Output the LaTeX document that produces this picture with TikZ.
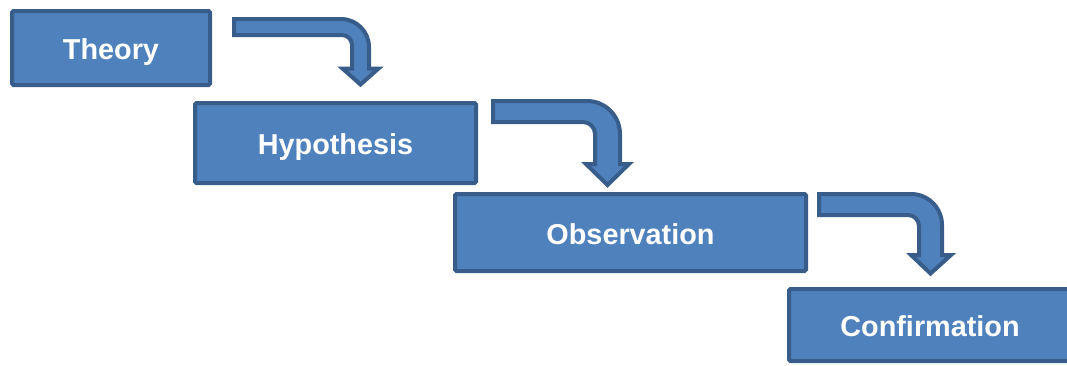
\documentclass[tikz,border=0pt]{standalone}
\usepackage{fontspec}
\setmainfont{Liberation Sans}
\definecolor{boxfill}{HTML}{4F81BD}
\definecolor{boxline}{HTML}{385D8A}
\tikzset{
  stage/.style={draw=boxline, fill=boxfill, line width=4pt, rounded corners=1.5pt,
    text=white, font=\fontsize{28.8}{34}\selectfont\bfseries, inner sep=0pt,
    text height=23.6pt, text depth=0pt},
  bent/.style={draw=boxline, fill=boxfill, line width=4pt, line join=miter}
}
\begin{document}
\begin{tikzpicture}[x=1pt, y=-1pt]
  \useasboundingbox (0,0) rectangle (1067,365);
  \clip (0,0) rectangle (1067,365);

  % stages of the method
  \node[stage, minimum width=198pt, minimum height=74pt] (theory) at (111,48) {Theory};
  \node[stage, minimum width=281pt, minimum height=80pt] (hypo) at (335.5,143) {Hypothesis};
  \node[stage, minimum width=351pt, minimum height=77pt] (obs) at (630.5,232.5) {Observation};
  \node[stage, minimum width=282pt, minimum height=72pt] (conf) at (930,325) {Confirmation};

  % bent block arrows leading down to the next stage
  \draw[bent] (234,19) -- (341,19) arc[start angle=270, end angle=360, radius=28]
    -- (369,68.5) -- (378.5,68.5) -- (360.5,84.5) -- (342.5,68.5) -- (352,68.5)
    -- (352,45) arc[start angle=0, end angle=-90, radius=10] -- (234,35) -- cycle;

  \draw[bent] (493,101) -- (587,101) arc[start angle=270, end angle=360, radius=33]
    -- (620,164) -- (629,164) -- (607.5,185) -- (586,164) -- (595,164)
    -- (595,134) arc[start angle=0, end angle=-90, radius=12] -- (493,122) -- cycle;

  \draw[bent] (819,194) -- (911,194) arc[start angle=270, end angle=360, radius=31]
    -- (942,255) -- (951,255) -- (930.5,273.5) -- (911,255) -- (919,255)
    -- (919,226) arc[start angle=0, end angle=-90, radius=11] -- (819,215) -- cycle;
\end{tikzpicture}
\end{document}
